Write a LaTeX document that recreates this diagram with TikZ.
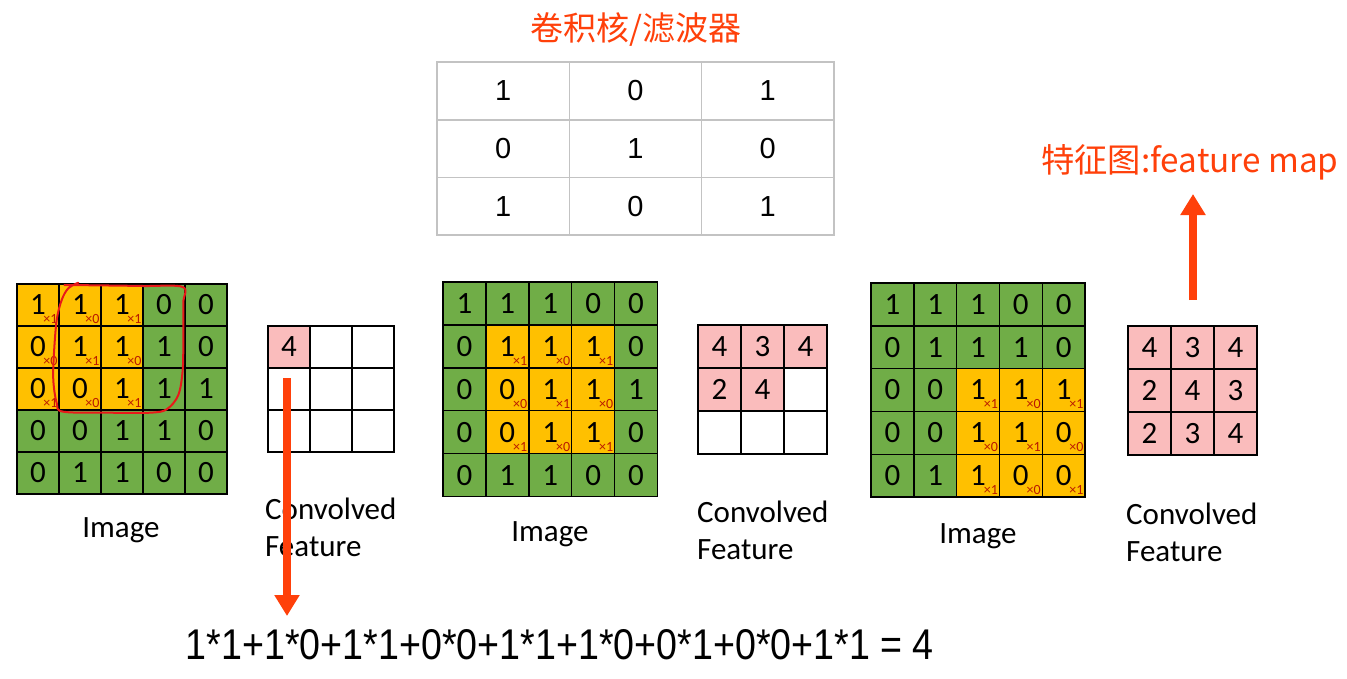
\documentclass[tikz,border=0pt]{standalone}
\usepackage{fontspec}
\setmainfont{Carlito}
\newfontfamily\cjkf{Noto Sans CJK SC}
\newfontfamily\arialf{Liberation Sans}
\newfontfamily\narrowf[FakeStretch=0.875]{Liberation Sans}
\usetikzlibrary{arrows.meta,calc}
\definecolor{imggreen}{RGB}{112,173,71}
\definecolor{imgorange}{RGB}{255,192,0}
\definecolor{fmpink}{RGB}{250,188,188}
\definecolor{kgray}{RGB}{195,195,195}
\definecolor{mainred}{RGB}{255,64,10}
\definecolor{multred}{RGB}{185,25,0}
\definecolor{loopred}{RGB}{232,25,25}
\tikzset{
  imgcell/.style={draw=black, line width=1.4pt, inner sep=0pt, font=\fontsize{31}{31}\selectfont},
  multlbl/.style={inner sep=0pt, text=multred, font=\fontsize{14}{14}\selectfont},
  fmcell/.style={draw=black, line width=1.4pt, inner sep=0pt, font=\fontsize{31}{31}\selectfont},
  kcell/.style={draw=kgray, line width=1.6pt, inner sep=0pt, font=\arialf\fontsize{29}{29}\selectfont, minimum width=132.3pt, minimum height=57.7pt},
  lbl/.style={inner sep=0pt, font=\fontsize{31}{31}\selectfont},
  redtitle/.style={inner sep=0pt, text=mainred, font=\cjkf\fontsize{33}{33}\selectfont},
  bigarrow/.style={draw=mainred, line width=8pt, -{Triangle[width=24pt,length=21pt]}},
  loopline/.style={draw=loopred, line width=2pt, line cap=round, line join=round}
}
\newcommand\imagegrid[6]{% name, x0, y0, cell, offr, offc
  \foreach \row [count=\ri] in {{1,1,1,0,0},{0,1,1,1,0},{0,0,1,1,1},{0,0,1,1,0},{0,1,1,0,0}} {
    \foreach \v [count=\ci] in \row {
      \pgfmathtruncatemacro\dr{\ri-#5}
      \pgfmathtruncatemacro\dc{\ci-#6}
      \pgfmathtruncatemacro\inwin{(\dr>0)*(\dr<4)*(\dc>0)*(\dc<4)}
      \ifnum\inwin=1 \def\fc{imgorange}\else\def\fc{imggreen}\fi
      \node[imgcell, fill=\fc, minimum size=#4pt] (#1-\ri-\ci) at ({#2+(\ci-0.5)*#4},{#3+(\ri-0.5)*#4}) {\v};
      \ifnum\inwin=1
        \pgfmathtruncatemacro\m{mod(\dr+\dc+1,2)}
        \node[multlbl, anchor=south east] (#1-m-\ri-\ci) at ($(#1-\ri-\ci.south east)+(-2,-3)$) {×\m};
      \fi
    }
  }
}
\newcommand\featmap[5]{% name, x0, y0, cell, values (n = empty)
  \foreach \v [count=\i from 0] in {#5} {
    \pgfmathtruncatemacro\fr{div(\i,3)+1}
    \pgfmathtruncatemacro\fcc{mod(\i,3)+1}
    \if\v n
      \node[fmcell, fill=white, minimum size=#4pt] (#1-\fr-\fcc) at ({#2+(\fcc-0.5)*#4},{#3+(\fr-0.5)*#4}) {};
    \else
      \node[fmcell, fill=fmpink, minimum size=#4pt] (#1-\fr-\fcc) at ({#2+(\fcc-0.5)*#4},{#3+(\fr-0.5)*#4}) {\v};
    \fi
  }
}
\begin{document}
\begin{tikzpicture}[x=1pt,y=-1pt]
\useasboundingbox (0,0) rectangle (1347,678);
\fill[white] (0,0) rectangle (1347,678);

% title and kernel
\node[redtitle] (ktitle) at (636,30) {卷积核/滤波器};
\foreach \row [count=\ri] in {{1,0,1},{0,1,0},{1,0,1}} {
  \foreach \v [count=\ci] in \row {
    \node[kcell] (k-\ri-\ci) at ({437+(\ci-0.5)*132.3},{62+(\ri-0.5)*57.7}) {\v};
  }
}

% image grids
\imagegrid{ga}{17}{284}{42}{0}{0}
\imagegrid{gb}{443}{282}{42.9}{1}{1}
\imagegrid{gc}{871}{283}{42.8}{2}{2}

% feature maps
\featmap{fa}{268}{326}{42}{4,n,n,n,n,n,n,n,n}
\featmap{fb}{698}{325}{43}{4,3,4,2,4,n,n,n,n}
\featmap{fc}{1128}{326}{43}{4,3,4,2,4,3,2,3,4}

% labels
\node[lbl] (imga) at (121,530) {Image};
\node[lbl] (imgb) at (550,534) {Image};
\node[lbl] (imgc) at (978,536) {Image};
\node[lbl, anchor=west] (cva) at (265,509) {Convolved};
\node[lbl, anchor=west] (fta) at (265,547) {Feature};
\node[lbl, anchor=west] (cvb) at (697,512) {Convolved};
\node[lbl, anchor=west] (ftb) at (697,550) {Feature};
\node[lbl, anchor=west] (cvc) at (1126,514) {Convolved};
\node[lbl, anchor=west] (ftc) at (1126,552) {Feature};

% feature map title
\node[redtitle, anchor=west, font=\cjkf\fontsize{33.3}{33.3}\selectfont] (fmtitle) at (1041,162) {特征图:feature map};

% formula
\node[inner sep=0pt, font=\narrowf\fontsize{43}{43}\selectfont] (formula) at (560,645) {1*1+1*0+1*1+0*0+1*1+1*0+0*1+0*0+1*1 = 4};

% red hand-drawn loop
\draw[loopline] plot[smooth, tension=0.55] coordinates {(78.3,282.7) (68.3,288.3) (61.7,300) (56.7,320) (54,353) (53.3,380) (56.7,403) (63.3,411.7) (110,412.7) (150,412.7) (166.7,409.3) (178.3,395) (182.7,370) (183.3,336.7) (183.3,303) (182.7,287) (143.3,286) (93.3,285.3) (64.3,285)};

% arrows
\coordinate (downstart) at (287,378);
\coordinate (downtip) at (287,616);
\draw[bigarrow] (downstart) -- (downtip);
\coordinate (upstart) at (1193,300);
\coordinate (uptip) at (1193,194);
\draw[bigarrow] (upstart) -- (uptip);
\end{tikzpicture}
\end{document}
